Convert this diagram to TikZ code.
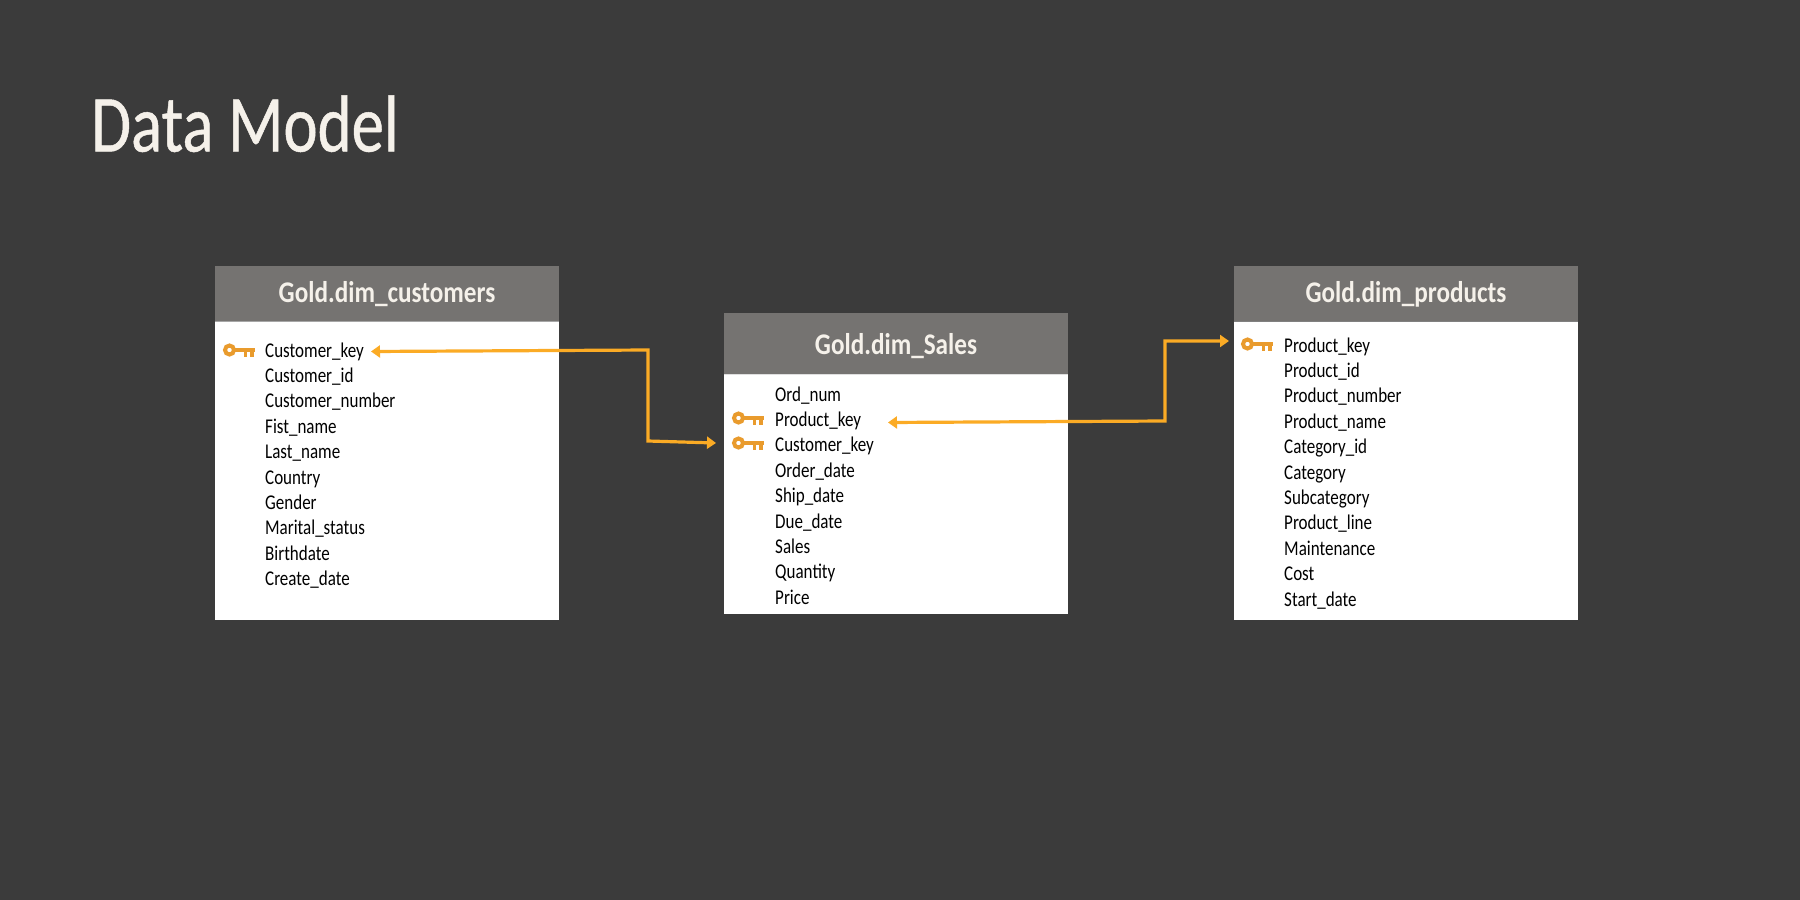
\documentclass[tikz,border=0pt]{standalone}
\usepackage{fontspec}
\setmainfont[FakeStretch=0.81]{Carlito}
\newfontfamily\titlefont[FakeStretch=0.8,FakeBold=0.6]{Carlito}
\newfontfamily\headfont[FakeStretch=0.84,BoldFont={Carlito Bold}]{Carlito}
\usetikzlibrary{positioning,arrows.meta}
\definecolor{slidebg}{HTML}{3B3B3B}
\definecolor{headgray}{HTML}{757371}
\definecolor{creamtxt}{HTML}{F5F1EA}
\definecolor{linkorange}{HTML}{FBAB25}
\definecolor{keyorange}{HTML}{E99B2D}
\tikzset{
	tablehead/.style={fill=headgray,text=creamtxt,font=\headfont\fontsize{30}{30}\selectfont\bfseries,minimum width=344pt,inner sep=0pt,outer sep=0pt,text height=24pt,text depth=6pt},
	tablebody/.style={fill=white,minimum width=344pt,inner sep=0pt,outer sep=0pt},
	rowtext/.style={anchor=base west,text=black,font=\fontsize{21}{21}\selectfont,inner sep=0pt},
	link/.style={draw=linkorange,line width=3.2pt,line join=miter},
	keyicon/.pic={
		\draw[keyorange,line width=4pt] (-9.5,0) circle (4.5);
		\fill[keyorange] (-5,-2.4) rectangle (16,2);
		\fill[keyorange] (4.5,1) rectangle (8,7);
		\fill[keyorange] (11,1) rectangle (15,7);
	}
}
\begin{document}
\begin{tikzpicture}[x=1pt,y=-1pt,>={Triangle[length=9pt,width=12pt]}]
	\useasboundingbox[fill=slidebg] (0,0) rectangle (1800,900);

	% Title
	\node[anchor=base west,text=creamtxt,font=\titlefont\fontsize{81}{81}\selectfont,inner sep=0pt] (title) at (91,151.5) {Data Model};

	% Table customers
	\node[tablehead,minimum height=55pt] (custhead) at (387,293.5) {Gold.dim\_customers};
	\node[tablebody,minimum height=299pt,below=0pt of custhead] (custbody) {};
	\draw[gray!70,line width=1pt] (custbody.north west) -- (custbody.north east);
	\foreach \txt [count=\n from 0] in {Customer\_key,Customer\_id,Customer\_number,Fist\_name,Last\_name,Country,Gender,Marital\_status,Birthdate,Create\_date}
		\node[rowtext] (cust\n) at (265,{357+25.4*\n}) {\txt};

	% Table sales
	\node[tablehead,minimum height=61pt,text height=27pt] (saleshead) at (896,343.5) {Gold.dim\_Sales};
	\node[tablebody,minimum height=240pt,below=0pt of saleshead] (salesbody) {};
	\draw[gray!25,line width=1pt] (salesbody.north west) -- (salesbody.north east);
	\foreach \txt [count=\n from 0] in {Ord\_num,Product\_key,Customer\_key,Order\_date,Ship\_date,Due\_date,Sales,Quantity,Price}
		\node[rowtext] (sales\n) at (775,{401+25.4*\n}) {\txt};

	% Table products
	\node[tablehead,minimum height=55pt] (prodhead) at (1406,293.5) {Gold.dim\_products};
	\node[tablebody,minimum height=299pt,below=0pt of prodhead] (prodbody) {};
	\draw[gray,line width=1pt] (prodbody.north west) -- (prodbody.north east);
	\foreach \txt [count=\n from 0] in {Product\_key,Product\_id,Product\_number,Product\_name,Category\_id,Category,Subcategory,Product\_line,Maintenance,Cost,Start\_date}
		\node[rowtext] (prod\n) at (1284,{352+25.4*\n}) {\txt};

	% Keys
	\pic at (239,350) {keyicon};
	\pic at (748,418) {keyicon};
	\pic at (748,443) {keyicon};
	\pic at (1257,344) {keyicon};

	% Links
	\coordinate (custtip) at (371,351.5);
	\coordinate (custbend) at (648,350);
	\coordinate (salesbend) at (648,441);
	\coordinate (salestip) at (716,443);
	\draw[link,<->] (custtip) -- (custbend) -- (salesbend) -- (salestip);

	\coordinate (pkeytip) at (888,422.5);
	\coordinate (pkeybend) at (1165,421);
	\coordinate (prodbend) at (1165,341);
	\coordinate (prodtip) at (1229,341);
	\draw[link,<->] (pkeytip) -- (pkeybend) -- (prodbend) -- (prodtip);
\end{tikzpicture}
\end{document}
